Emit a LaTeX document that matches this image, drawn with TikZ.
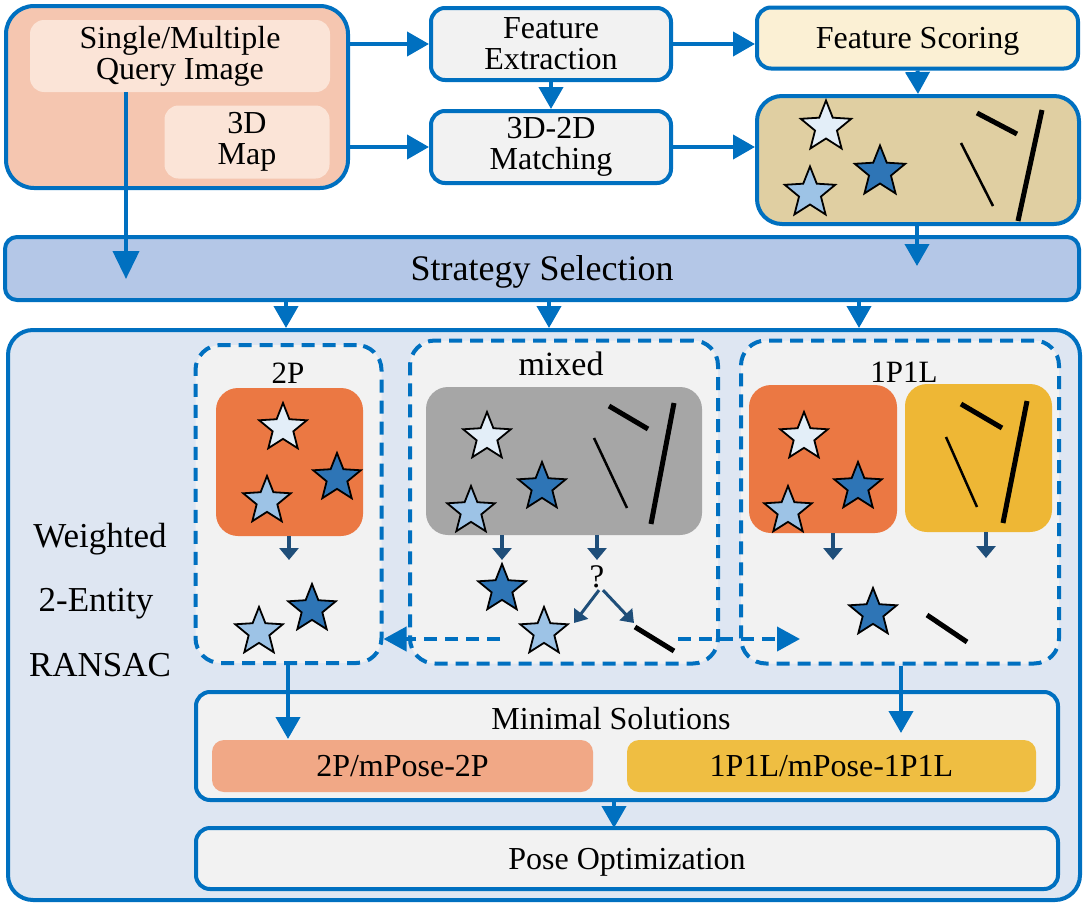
\documentclass[tikz,border=0pt]{standalone}
\usepackage{fontspec}
\setmainfont{Liberation Serif}
\usetikzlibrary{shapes.geometric,arrows.meta,calc}
\definecolor{bl}{HTML}{0070C0}
\definecolor{salm}{HTML}{F5C6B0}
\definecolor{salmlt}{HTML}{FBE4D7}
\definecolor{gr}{HTML}{F2F2F2}
\definecolor{cream}{HTML}{FBF0D4}
\definecolor{tan}{HTML}{E0CFA2}
\definecolor{strat}{HTML}{B4C7E7}
\definecolor{rans}{HTML}{DEE6F2}
\definecolor{orng}{HTML}{EB7843}
\definecolor{yell}{HTML}{EEB735}
\definecolor{mgray}{HTML}{A6A6A6}
\definecolor{msal}{HTML}{F1A886}
\definecolor{myel}{HTML}{EFBE42}
\definecolor{stl}{HTML}{E3EEF8}
\definecolor{stm}{HTML}{9DC3E6}
\definecolor{std}{HTML}{2E75B6}
\definecolor{navy}{HTML}{1F4E79}
\newcommand\fsz[1]{\fontsize{#1}{31}\selectfont}
\begin{document}
\begin{tikzpicture}[x=1pt,y=-1pt,
  bbox/.style={draw=bl, line width=4pt, rounded corners=14pt, inner sep=0pt, align=center, font=\fsz{32}},
  plain/.style={inner sep=0pt, align=center, font=\fsz{32}},
  one/.style={text depth=0pt},
  dbox/.style={draw=bl, line width=4pt, dash pattern=on 13pt off 8pt, rounded corners=25pt, fill=gr, inner sep=0pt},
  cbox/.style={rounded corners=22pt, inner sep=0pt},
  arr/.style={draw=bl, line width=4pt, -{Triangle[length=22pt,width=24pt]}},
  darr/.style={draw=bl, line width=4pt, dash pattern=on 13pt off 8pt, -{Triangle[length=23pt,width=24pt]}},
  sarr/.style={draw=navy, line width=3.5pt, -{Triangle[length=12pt,width=19pt]}},
  mystar/.style={star, star points=5, star point ratio=2.3, draw=black, line width=1.8pt, inner sep=0pt, minimum size=#1},
  mystar/.default=50pt,
  thk/.style={line width=5pt, black},
  thn/.style={line width=2.5pt, black}
]
\useasboundingbox (0,0) rectangle (1085,905);

% ---- top section ----
\node[bbox, fill=salm, rounded corners=28pt, minimum width=342pt, minimum height=182pt] (top) at (177,97) {};
\node[plain, fill=salmlt, rounded corners=14pt, minimum width=300pt, minimum height=72pt] (qimg) at (180,56) {Single/Multiple\\Query Image};
\node[plain, fill=salmlt, rounded corners=14pt, minimum width=165pt, minimum height=73pt] (map) at (247,142) {3D\\Map};
\node[bbox, fill=gr, minimum width=240pt, minimum height=72pt] (fe) at (551,44) {Feature\\Extraction};
\node[bbox, fill=gr, minimum width=240pt, minimum height=72pt] (match) at (551,147) {3D-2D\\Matching};
\node[bbox, one, fill=cream, minimum width=321pt, minimum height=61pt] (fs) at (917.5,38) {Feature Scoring};
\node[bbox, fill=tan, rounded corners=25pt, minimum width=322pt, minimum height=128pt] (tanb) at (918,160) {};

\node[mystar=53pt, fill=stl] (t1) at (826,127) {};
\node[mystar=53pt, fill=std] (t2) at (880,172) {};
\node[mystar=53pt, fill=stm] (t3) at (810,193) {};
\draw[thk] (977,113) -- (1017,134);
\draw[thk] (1042,110) -- (1018,221);
\draw[thn] (961,143) -- (993,206);

\node[bbox, one, fill=strat, rounded corners=12pt, minimum width=1074pt, minimum height=63pt, font=\fsz{36}] (strat) at (542,268.5) {Strategy Selection};

\coordinate (qs) at (126,279);
\coordinate (ts) at (917,266);
\draw[arr] (fe.west -| top.east) -- (fe.west);
\draw[arr] (match.west -| top.east) -- (match.west);
\draw[arr] (fe.south) -- (match.north);
\draw[arr] (fe.east) -- (fe.east -| fs.west);
\draw[arr] (fs.south) -- (tanb.north);
\draw[arr] (match.east) -- (match.east -| tanb.west);
\draw[arr, -{Triangle[length=28pt,width=26pt]}] (qimg.south -| qs) -- (qs);
\draw[arr] (tanb.south -| ts) -- (ts);

% ---- RANSAC section ----
\node[bbox, fill=rans, rounded corners=25pt, minimum width=1072pt, minimum height=570pt] (ransac) at (544,615) {};
\coordinate (a1) at (286,300);
\coordinate (a2) at (549,300);
\coordinate (a3) at (859,300);
\draw[arr] (strat.south -| a1) -- (ransac.north -| a1);
\draw[arr] (strat.south -| a2) -- (ransac.north -| a2);
\draw[arr] (strat.south -| a3) -- (ransac.north -| a3);

\node[plain, font=\fsz{35}] (w1) at (100,539) {Weighted};
\node[plain, font=\fsz{35}] (w2) at (96,604) {2-Entity};
\node[plain, one, font=\fsz{35}] (w3) at (100,665) {RANSAC};

\node[dbox, minimum width=186pt, minimum height=318pt] (d2p) at (288.5,504) {};
\node[dbox, minimum width=308pt, minimum height=323pt] (dmix) at (564,502) {};
\node[dbox, minimum width=318pt, minimum height=323pt] (d1p) at (900,502) {};

\node[plain, one, font=\fsz{31}] (l2p) at (288,373) {2P};
\node[plain, font=\fsz{34}] (lmix) at (561,364) {mixed};
\node[plain, one, font=\fsz{31}] (l1p) at (904,372) {1P1L};

\node[cbox, fill=orng, minimum width=147pt, minimum height=148pt] (o2p) at (289.5,462) {};
\node[cbox, fill=mgray, minimum width=276pt, minimum height=148pt] (gmix) at (564,461) {};
\node[cbox, fill=orng, minimum width=148pt, minimum height=148pt] (o1p) at (823,459) {};
\node[cbox, fill=yell, minimum width=147pt, minimum height=148pt] (y1l) at (978.5,458) {};

% 2P stars
\node[mystar, fill=stl] (p1) at (283,428) {};
\node[mystar, fill=std] (p2) at (337,478) {};
\node[mystar, fill=stm] (p3) at (267,501) {};
\draw[sarr] (o2p.south -| 289,0) -- (289,560);
\node[mystar, fill=std] (p4) at (312,609) {};
\node[mystar, fill=stm] (p5) at (259,632) {};

% mixed
\node[mystar, fill=stl] (m1) at (487,437) {};
\node[mystar, fill=std] (m2) at (542,487) {};
\node[mystar, fill=stm] (m3) at (471,511) {};
\draw[thk] (609,406) -- (648,429);
\draw[thk] (674,403) -- (651,524);
\draw[thn] (594,438) -- (627,508);
\coordinate (ma) at (502,560);
\coordinate (mb) at (597,560);
\draw[sarr] (gmix.south -| ma) -- (ma);
\draw[sarr] (gmix.south -| mb) -- (mb);
\node[plain, one, font=\fsz{33}] (q) at (597,577) {?};
\coordinate (qa) at (574,623);
\coordinate (qb) at (634,623);
\draw[draw=navy, line width=3pt, -{Triangle[length=12pt,width=17pt]}] ([xshift=2pt,yshift=-2pt]q.south) -- (qa);
\draw[draw=navy, line width=3pt, -{Triangle[length=12pt,width=17pt]}] ([xshift=6pt,yshift=-2pt]q.south) -- (qb);
\node[mystar, fill=std] (m4) at (502,589) {};
\node[mystar, fill=stm] (m5) at (544,632) {};
\draw[thk] (635,627) -- (674,651);

% 1P1L
\node[mystar, fill=stl] (n1) at (804,437) {};
\node[mystar, fill=std] (n2) at (858,487) {};
\node[mystar, fill=stm] (n3) at (788,511) {};
\draw[thk] (961,404) -- (1002,428);
\draw[thk] (1027,401) -- (1003,523);
\draw[thn] (946,437) -- (977,507);
\coordinate (na) at (833,560);
\coordinate (nb) at (986,558);
\draw[sarr] (o1p.south -| na) -- (na);
\draw[sarr] (y1l.south -| nb) -- (nb);
\node[mystar, fill=std] (n4) at (873,613) {};
\draw[thk] (927,615) -- (967,642);

% dashed arrows
\coordinate (dl) at (500,639);
\coordinate (dr) at (678,639);
\coordinate (drt) at (800,639);
\draw[darr] (dl) -- (dl -| d2p.east);
\draw[darr] (dr) -- (drt);

% minimal solutions
\node[bbox, fill=gr, minimum width=862pt, minimum height=108pt] (minsol) at (627,746) {};
\node[plain, one] (mslab) at (611,718) {Minimal Solutions};
\node[plain, one, fill=msal, rounded corners=12pt, minimum width=381pt, minimum height=52pt] (ms2p) at (402.5,766) {2P/mPose-2P};
\node[plain, one, fill=myel, rounded corners=12pt, minimum width=409pt, minimum height=52pt] (ms1p) at (831.5,766) {1P1L/mPose-1P1L};
\node[bbox, one, fill=gr, minimum width=862pt, minimum height=61pt] (pose) at (627,858.5) {Pose Optimization};

\coordinate (b1) at (288,739);
\coordinate (b2) at (901,733);
\coordinate (b3) at (614,828);
\draw[arr] (d2p.south -| b1) -- (b1);
\draw[arr] (d1p.south -| b2) -- (b2);
\draw[arr] (minsol.south -| b3) -- (b3);
\end{tikzpicture}
\end{document}
